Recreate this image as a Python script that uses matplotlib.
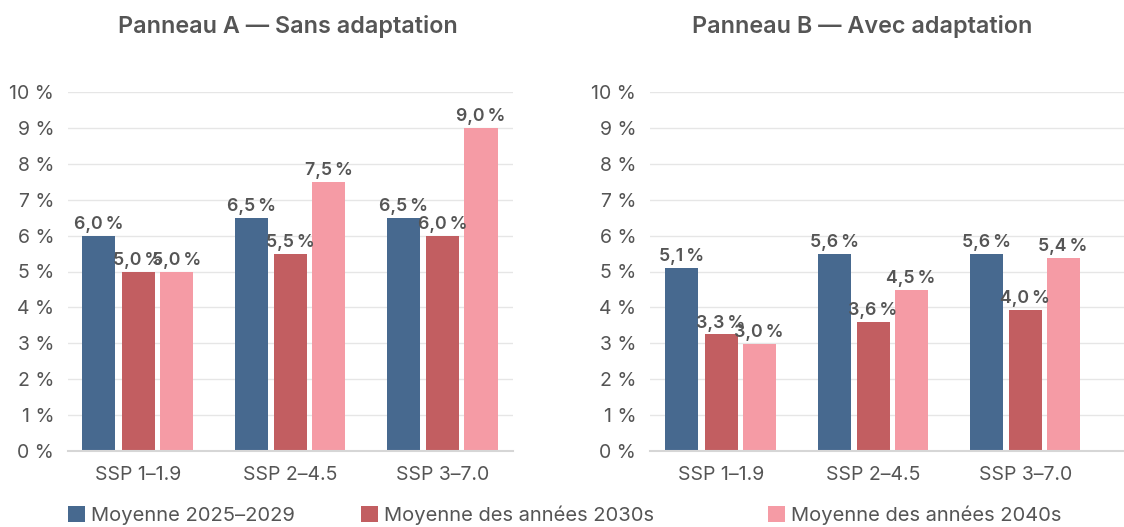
import matplotlib
matplotlib.use("Agg")
import matplotlib.pyplot as plt
import numpy as np
from matplotlib.patches import Patch

plt.rcParams["font.family"] = ["Inter", "DejaVu Sans"]

# data
scenarios = ["SSP 1\u20131.9", "SSP 2\u20134.5", "SSP 3\u20137.0"]
series_names = ["Moyenne 2025\u20132029", "Moyenne des ann\u00e9es 2030s", "Moyenne des ann\u00e9es 2040s"]
colors = ["#47698F", "#C25E61", "#F59BA5"]

panel_a_title = "Panneau A \u2014 Sans adaptation"
panel_a_vals = [
    [6.0, 6.5, 6.5],
    [5.0, 5.5, 6.0],
    [5.0, 7.5, 9.0],
]
panel_a_labels = [
    ["6,0\u202f%", "6,5\u202f%", "6,5\u202f%"],
    ["5,0\u202f%", "5,5\u202f%", "6,0\u202f%"],
    ["5,0\u202f%", "7,5\u202f%", "9,0\u202f%"],
]

panel_b_title = "Panneau B \u2014 Avec adaptation"
panel_b_vals = [
    [5.1, 5.5, 5.5],
    [3.25, 3.6, 3.93],
    [2.98, 4.48, 5.37],
]
panel_b_labels = [
    ["5,1\u202f%", "5,6\u202f%", "5,6\u202f%"],
    ["3,3\u202f%", "3,6\u202f%", "4,0\u202f%"],
    ["3,0\u202f%", "4,5\u202f%", "5,4\u202f%"],
]

yticks = list(range(0, 11))

TEXT = "#555555"
W, H = 1124, 527
fig = plt.figure(figsize=(W / 100, H / 100), dpi=100)


def draw_panel(rect, xlim, title, title_x, vals, labels):
    ax = fig.add_axes(rect)
    x = np.arange(len(scenarios))
    width = 0.217
    offsets = [-0.257, 0.0, 0.25]
    for i, (v, lab) in enumerate(zip(vals, labels)):
        bars = ax.bar(x + offsets[i], v, width, color=colors[i], zorder=3)
        for b, t in zip(bars, lab):
            ax.annotate(t, (b.get_x() + b.get_width() / 2, b.get_height()),
                        xytext=(0, 2), textcoords="offset points",
                        ha="center", va="bottom", fontsize=12.8,
                        fontweight="semibold", color=TEXT, zorder=4)
    ax.set_xlim(*xlim)
    ax.set_ylim(0, 10)
    ax.set_yticks(yticks)
    ax.set_yticklabels([f"{t} %" for t in yticks])
    ax.set_xticks(x)
    ax.set_xticklabels(scenarios)
    ax.tick_params(axis="both", length=0, labelsize=14, labelcolor=TEXT)
    ax.tick_params(axis="y", pad=10)
    ax.tick_params(axis="x", pad=11)
    ax.grid(axis="y", color="#e6e6e6", lw=1, zorder=0)
    for s in ["top", "right", "left"]:
        ax.spines[s].set_visible(False)
    ax.spines["bottom"].set_color("#d6d6d6")
    ax.spines["bottom"].set_linewidth(1.5)
    ax.spines["bottom"].set_zorder(5)
    fig.text(title_x / W, 1 - 26 / H, title, ha="center", va="center",
             fontsize=16.8, fontweight="semibold", color=TEXT)
    return ax


draw_panel([68 / W, 1 - 451 / H, 445 / W, 359 / H], (-0.46, 2.46),
           panel_a_title, 288, panel_a_vals, panel_a_labels)
draw_panel([650 / W, 1 - 451 / H, 474 / W, 359 / H], (-0.467, 2.65),
           panel_b_title, 862, panel_b_vals, panel_b_labels)

# legend entries, one per series, placed like the reference
legend_x = [66, 359, 766]
for c, name, lx in zip(colors, series_names, legend_x):
    fig.legend([Patch(facecolor=c, edgecolor="none")], [name], loc="lower left",
               bbox_to_anchor=(lx / W, 0 / H), frameon=False,
               fontsize=14.5, labelcolor=TEXT, handlelength=0.85,
               handleheight=0.85, handletextpad=0.3, borderpad=0.1,
               borderaxespad=0)

fig.savefig("out.png", dpi=100)
